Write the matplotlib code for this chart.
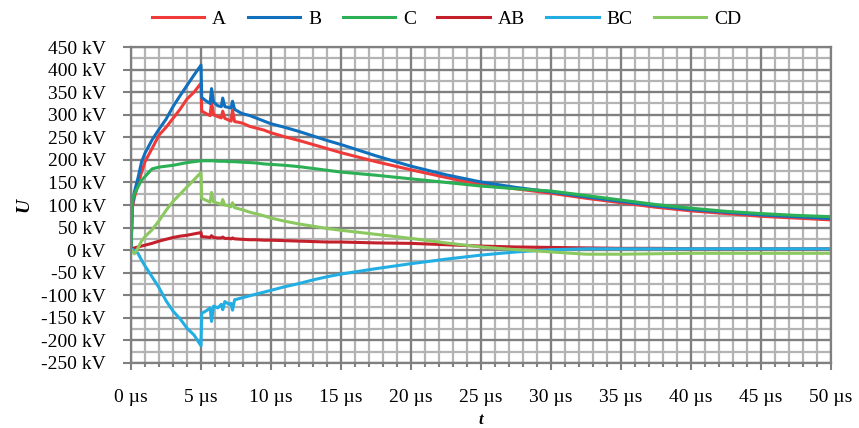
import matplotlib
matplotlib.use('Agg')
import matplotlib.pyplot as plt
from matplotlib.ticker import MultipleLocator, FuncFormatter

# time axis [us]
t = [0, 0.1, 0.25, 0.5, 0.75, 1.0, 1.5, 2.0, 2.5, 3.0, 3.5, 4.0, 4.5, 5.0,
     5.05, 5.4, 5.65, 5.75, 5.9, 6.2, 6.45, 6.55, 6.7, 7.0, 7.15, 7.25, 7.4,
     7.9, 8.5, 9.0, 9.5, 10, 11, 12, 13, 14, 15, 17.5, 20, 22.5, 25, 27.5,
     30, 32.5, 35, 37.5, 40, 42.5, 45, 47.5, 50]

# voltages [kV]
u_a = [0, 95, 118, 145, 172, 196, 225, 255, 272, 292, 312, 335, 350, 370,
       308, 302, 298, 328, 300, 296, 293, 308, 292, 288, 286, 310, 285,
       282, 274, 270, 266, 260, 251, 243, 234, 225, 216, 196, 178, 161, 146, 136,
       126, 115, 105, 95, 87, 81, 75, 71, 67]
u_b = [0, 100, 130, 160, 195, 215, 244, 268, 290, 318, 342, 365, 388, 410,
       338, 330, 325, 358, 328, 320, 318, 337, 318, 316, 315, 330, 312,
       303, 298, 292, 286, 280, 272, 263, 253, 243, 234, 209, 186, 167, 151, 139,
       129, 118, 108, 98, 90, 84, 78, 74, 70]
u_c = [0, 110, 125, 140, 155, 163, 180, 184, 186, 188, 191, 194, 196, 198,
       198, 198, 198, 198, 198, 197, 197, 197, 197, 196, 196, 196, 196,
       195, 194, 193, 191, 190, 188, 185, 181, 177, 173, 166, 158, 150, 142, 136,
       131, 121, 111, 101, 93, 86, 81, 77, 74]
u_ab = [0, 3, 5, 7, 9, 11, 15, 20, 24, 28, 31, 33, 36, 39,
        30, 29, 28, 32, 28, 27, 27, 29, 26, 26, 25, 27, 25,
        24, 23, 23, 22, 22, 21, 20, 19, 18, 18, 16, 15, 12, 9, 7,
        6, 5, 4, 4, 3, 3, 3, 3, 3]
u_bc = [0, 2, -2, -7, -22, -35, -59, -83, -112, -135, -152, -173, -188, -212,
        -140, -134, -128, -158, -124, -128, -120, -132, -114, -120, -118, -133, -110,
        -106, -101, -97, -93, -89, -81, -74, -66, -59, -53, -41, -30, -20, -11, -4,
        1, 3, 3, 3, 3, 3, 3, 3, 3]
u_cd = [0, -3, -8, 5, 20, 30, 45, 65, 88, 108, 124, 140, 156, 172,
        115, 110, 106, 128, 107, 104, 101, 112, 100, 98, 96, 105, 94,
        90, 84, 80, 76, 71, 64, 58, 53, 48, 44, 35, 26, 16, 7, 1,
        -4, -9, -9, -8, -7, -7, -7, -7, -7]

series = [('A', u_a, '#f03a3a'), ('B', u_b, '#1070bd'), ('C', u_c, '#2bb055'),
          ('AB', u_ab, '#c4202c'), ('BC', u_bc, '#23aee3'), ('CD', u_cd, '#8cc860')]

plt.rcParams['font.family'] = 'Liberation Serif'
plt.rcParams['font.size'] = 14

fig = plt.figure(figsize=(8.59, 4.28), dpi=100)
ax = fig.add_axes([0.1525, 0.152, 0.815, 0.738])

ax.set_xlim(0, 50)
ax.set_ylim(-250, 450)
ax.xaxis.set_major_locator(MultipleLocator(5))
ax.xaxis.set_minor_locator(MultipleLocator(1))
ax.yaxis.set_major_locator(MultipleLocator(50))
ax.yaxis.set_minor_locator(MultipleLocator(25))
ax.xaxis.set_major_formatter(FuncFormatter(lambda v, p: '%d \u00b5s' % v))
ax.yaxis.set_major_formatter(FuncFormatter(lambda v, p: '%d kV' % v))

# light minor grid, darker major grid
ax.vlines(range(0, 51), -250, 450, colors='#b4b4b4', lw=1.6, zorder=1)
ax.hlines(range(-250, 451, 25), 0, 50, colors='#b4b4b4', lw=1.6, zorder=1)
ax.vlines(range(0, 51, 5), -250, 450, colors='#808080', lw=1.6, zorder=1.1)
ax.hlines(range(-250, 451, 50), 0, 50, colors='#808080', lw=1.6, zorder=1.1)

for name, u, col in series:
  ax.plot(t, u, '-', color=col, lw=2.2, label=name, zorder=2)

for s in ax.spines.values():
  s.set_color('#808080')
  s.set_linewidth(1.6)
ax.tick_params(which='both', color='#808080', direction='out', width=1.5)
ax.tick_params(axis='x', which='major', length=5, pad=14)
ax.tick_params(axis='x', which='minor', length=3)
ax.tick_params(axis='y', which='major', length=6, pad=12)
ax.tick_params(axis='y', which='minor', length=0)

# axis titles
fig.text(481 / 859, 0.5 / 428, 't', fontstyle='italic', fontweight='bold',
         fontsize=12, ha='center', va='bottom')
ax.set_ylabel('U', fontstyle='italic', fontweight='bold', labelpad=6)

fig.legend(loc='center', bbox_to_anchor=(0.52, 0.955), ncol=6, frameon=False,
           handlelength=2.7, handletextpad=0.4, columnspacing=1.1)

fig.savefig('out.png', dpi=100)
